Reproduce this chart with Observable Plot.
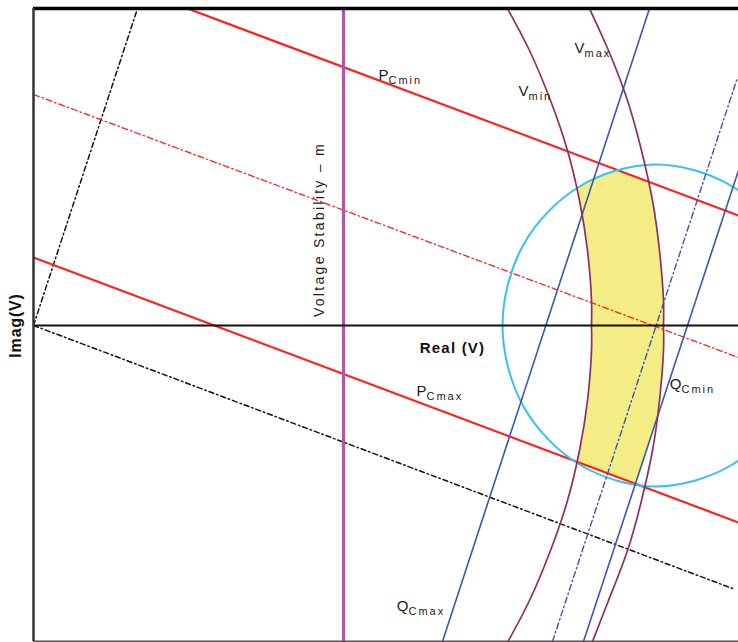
<!DOCTYPE html>
<html>
<head>
<meta charset="utf-8">
<script src="https://cdn.jsdelivr.net/npm/d3@7"></script>
<script src="https://cdn.jsdelivr.net/npm/@observablehq/plot@0.6"></script>
<style>
  html, body { margin: 0; padding: 0; background: #fff; }
  #chart svg { display: block; }
</style>
</head>
<body>
<div id="chart"></div>
<script>
// Operating region of a generator in the complex voltage plane (Real / Imag of V).
// Each curve is a list of [real, imag] points.

const realDomain = [0, 7.05];
const imagDomain = [-3.16, 3.17];

// Active power limits (straight loci) and their mid line
const pCminLine = [[1.54, 3.17], [7.05, 1.10]];
const pCmaxLine = [[0.00, 0.68], [7.05, -1.97]];
const pMidLine  = [[0.00, 2.31], [7.05, -0.32]];

// Reference directions through the origin
const refLow   = [[0.00, 0.00], [6.99, -2.63]];
const refSteep = [[0.00, 0.00], [1.04, 3.17]];

// Reactive power limits
const qCmaxLine = [[4.09, -3.16], [6.16, 3.17]];
const qCminLine = [[5.50, -3.16], [7.05, 1.55]];
const qMidLine  = [[5.19, -3.16], [7.04, 2.48]];

// Voltage magnitude limits
const vMinCurve = [
  [4.74, 3.17], [4.96, 2.75], [5.17, 2.25], [5.34, 1.75], [5.46, 1.25], [5.54, 0.75],
  [5.58, 0.25], [5.58, 0.00], [5.58, -0.25], [5.54, -0.75], [5.46, -1.25], [5.34, -1.75],
  [5.17, -2.25], [4.96, -2.75], [4.745, -3.16]
];
const vMaxCurve = [
  [5.56, 3.17], [5.75, 2.75], [5.94, 2.25], [6.08, 1.75], [6.19, 1.25], [6.26, 0.75],
  [6.30, 0.25], [6.30, 0.00], [6.30, -0.25], [6.26, -0.75], [6.19, -1.25], [6.08, -1.75],
  [5.94, -2.25], [5.75, -2.75], [5.59, -3.16]
];

// Capability circle
const capabilityCircle = [
  [7.75, 0.00], [7.55, 0.81], [6.99, 1.39], [6.22, 1.61], [5.46, 1.39], [4.90, 0.81],
  [4.69, 0.00], [4.90, -0.81], [5.46, -1.39], [6.22, -1.61], [6.99, -1.39], [7.55, -0.81]
];

// Feasible operating region
const feasibleRegion = [
  [5.84, 1.55], [5.99, 1.49], [6.156, 1.43], [6.19, 1.25], [6.23, 1.00], [6.26, 0.75],
  [6.29, 0.35], [6.30, 0.00], [6.29, -0.38], [6.27, -0.65], [6.245, -0.89], [6.13, -1.25],
  [6.02, -1.58], [5.72, -1.47], [5.433, -1.365], [5.49, -1.05], [5.54, -0.75], [5.57, -0.38],
  [5.58, 0.00], [5.57, 0.35], [5.54, 0.75], [5.49, 1.05], [5.46, 1.25], [5.44, 1.38],
  [5.53, 1.44], [5.62, 1.48], [5.72, 1.52]
];

// Voltage stability limit (vertical line)
const stabilityReal = [3.10];

// Curve labels: main letter, subscript, anchor point
const labelMain = ["P", "V", "V", "P", "Q", "Q"];
const labelSub  = ["Cmin", "min", "max", "Cmax", "Cmin", "Cmax"];
const labelX    = [3.55, 4.95, 5.51, 3.93, 6.48, 3.75];
const labelY    = [2.46, 2.30, 2.73, -0.70, -0.63, -2.85];

const labels = labelMain.map((m, i) => ({main: m, sub: labelSub[i], x: labelX[i], y: labelY[i]}));

const stabilityText = "Voltage Stability – m";

const X = d => d[0], Y = d => d[1];
const RED = "#ff1f1f", BLUE = "#3a55b5", PLUM = "#8e2f62", CYAN = "#36c1ee";

const chart = Plot.plot({
  width: 738,
  height: 642,
  marginLeft: 33,
  marginRight: 0,
  marginTop: 8,
  marginBottom: 1,
  x: {domain: realDomain, axis: null},
  y: {domain: imagDomain, axis: null},
  style: {fontFamily: "Liberation Sans, Arial, sans-serif", background: "#fff", overflow: "visible"},
  marks: [
    Plot.line(feasibleRegion, {x: X, y: Y, curve: "linear-closed", fill: "#f4ec85", stroke: "none"}),

    Plot.line(refLow,   {x: X, y: Y, stroke: "#111", strokeWidth: 1.5, strokeDasharray: "5,3,1.5,3", clip: true}),
    Plot.line(refSteep, {x: X, y: Y, stroke: "#111", strokeWidth: 1.5, strokeDasharray: "5,3,1.5,3", clip: true}),

    Plot.line(pMidLine,  {x: X, y: Y, stroke: RED, strokeWidth: 1.3, strokeDasharray: "6,3,1.5,3", clip: true}),
    Plot.line(pCminLine, {x: X, y: Y, stroke: RED, strokeWidth: 2.2, clip: true}),
    Plot.line(pCmaxLine, {x: X, y: Y, stroke: RED, strokeWidth: 2.2, clip: true}),

    Plot.line(capabilityCircle, {x: X, y: Y, curve: "catmull-rom-closed", stroke: CYAN, strokeWidth: 2, clip: true}),

    Plot.line(qMidLine,  {x: X, y: Y, stroke: BLUE, strokeWidth: 1.4, strokeDasharray: "6,3,1.5,3", clip: true}),
    Plot.line(qCmaxLine, {x: X, y: Y, stroke: BLUE, strokeWidth: 1.6, clip: true}),
    Plot.line(qCminLine, {x: X, y: Y, stroke: BLUE, strokeWidth: 1.6, clip: true}),

    Plot.line(vMinCurve, {x: X, y: Y, curve: "natural", stroke: PLUM, strokeWidth: 1.7, clip: true}),
    Plot.line(vMaxCurve, {x: X, y: Y, curve: "natural", stroke: PLUM, strokeWidth: 1.7, clip: true}),

    Plot.ruleX(stabilityReal, {stroke: "#b455a6", strokeWidth: 3.2}),

    // frame and real axis
    Plot.ruleY([0], {stroke: "#111", strokeWidth: 2}),
    Plot.ruleY([imagDomain[1]], {stroke: "#000", strokeWidth: 3.5}),
    Plot.ruleY([imagDomain[0]], {stroke: "#555", strokeWidth: 2}),
    Plot.ruleX([realDomain[0]], {stroke: "#333", strokeWidth: 2.5}),

    // labels
    Plot.text(labels, {x: "x", y: "y", text: "main", textAnchor: "end", lineAnchor: "bottom",
      fontSize: 15, fill: "#1a1a1a"}),
    Plot.text(labels, {x: "x", y: "y", text: "sub", textAnchor: "start", lineAnchor: "bottom",
      dy: 4, fontSize: 11, fill: "#1a1a1a"}),

    Plot.text(["Real (V)"], {x: 4.19, y: -0.23, fontSize: 15, fontWeight: "bold", fill: "#111"}),
    Plot.text(["Imag(V)"], {x: -0.18, y: 0, rotate: -90, fontSize: 16, fontWeight: "bold", fill: "#111"}),
    Plot.text([stabilityText], {x: 2.86, y: 0.96, rotate: -90, fontSize: 14, fill: "#1a1a1a"})
  ]
});

// widen the tracking of the annotation text
const spacing = new Map([[stabilityText, "2.3px"], ["Real (V)", "1.2px"], ["Imag(V)", "0.8px"]]);
labelSub.forEach(s => spacing.set(s, "2px"));
d3.select(chart).selectAll("text").each(function () {
  const s = spacing.get(this.textContent);
  if (s) this.style.letterSpacing = s;
});

document.getElementById("chart").append(chart);
</script>
</body>
</html>
